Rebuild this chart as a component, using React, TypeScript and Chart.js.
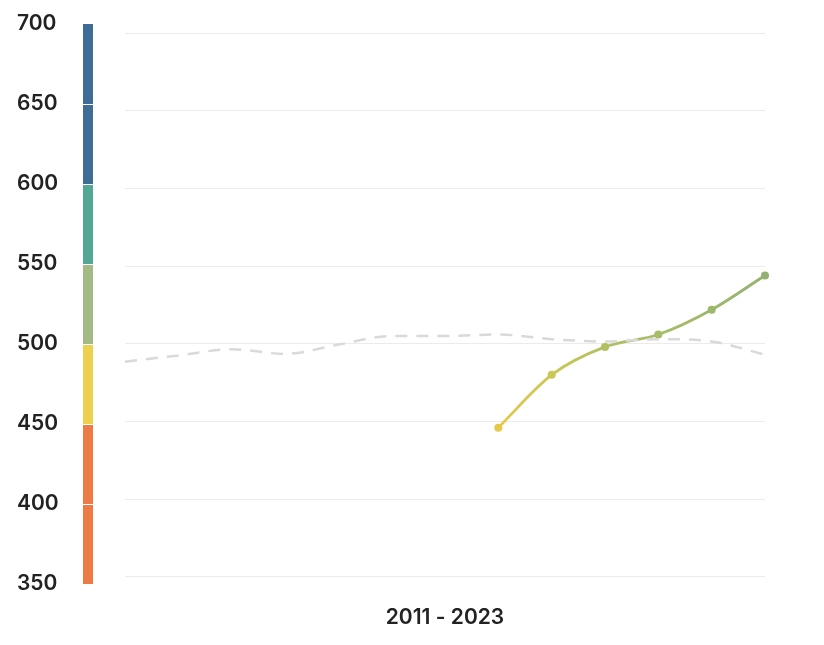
import React, { useEffect, useRef } from "react";
import { Chart, registerables } from "chart.js";

Chart.register(...registerables);

const years = ["2011","2012","2013","2014","2015","2016","2017","2018","2019","2020","2021","2022","2023"];
const axisLabel = "2011 - 2023";
const scoreValues: (number | null)[] = [null, null, null, null, null, null, null, 446, 480, 498, 506, 522, 544];
const referenceValues = [488.5, 492.5, 496.5, 493.5, 499.5, 505, 505, 506, 503, 501.5, 503, 501.5, 493];
const yTicks = [350, 400, 450, 500, 550, 600, 650, 700];
const bandEdges = [350, 450, 500, 550, 600, 700];
const bandColors = ["#ee7b45", "#eed04f", "#a4ba86", "#52a893", "#3f6d98"];
const pointColors = ["#e6c84a", "#cbc757", "#b2c062", "#a7bc67", "#9db76b", "#93b170"];

const colorBarPlugin = {
  id: "colorBar",
  afterDraw(chart: any) {
    const s = chart.scales.yl;
    const c = chart.ctx;
    const x0 = 75;
    const w = 10;
    c.save();
    for (let i = 0; i < bandColors.length; i++) {
      const lo = bandEdges[i];
      const hi = bandEdges[i + 1];
      c.fillStyle = bandColors[i];
      for (let v = lo; v < hi; v += 50) {
        const top = s.getPixelForValue(Math.min(v + 50, hi));
        const bot = s.getPixelForValue(v);
        const isTop = Math.min(v + 50, hi) === 700;
        c.fillRect(x0, top + (isTop ? 0 : 1), w, bot - top - (isTop ? 0 : 1));
      }
    }
    c.restore();
  },
};

export default function App() {
  const ref = useRef<HTMLCanvasElement | null>(null);
  useEffect(() => {
    if (!ref.current) return;
    const chart = new Chart(ref.current, {
      type: "line",
      data: {
        labels: years,
        datasets: [
          {
            data: referenceValues,
            yAxisID: "y",
            borderColor: "#d9d9d9",
            borderWidth: 2.5,
            borderDash: [12, 9],
            pointRadius: 0,
            tension: 0.4,
            cubicInterpolationMode: "monotone",
            fill: false,
          },
          {
            data: scoreValues,
            yAxisID: "y",
            borderColor: (ctx: any) => {
              const chart = ctx.chart;
              const area = chart.chartArea;
              if (!area) return "#b8c060";
              const xs = chart.scales.x;
              const g = chart.ctx.createLinearGradient(xs.getPixelForValue(7), 0, xs.getPixelForValue(12), 0);
              g.addColorStop(0, pointColors[0]);
              g.addColorStop(0.2, pointColors[1]);
              g.addColorStop(0.4, pointColors[2]);
              g.addColorStop(0.6, pointColors[3]);
              g.addColorStop(0.8, pointColors[4]);
              g.addColorStop(1, pointColors[5]);
              return g;
            },
            borderWidth: 2.8,
            pointRadius: 4,
            pointBorderWidth: 0,
            pointBackgroundColor: [null, null, null, null, null, null, null, ...pointColors] as any,
            cubicInterpolationMode: "monotone",
            fill: false,
            clip: 10,
          },
        ],
      },
      options: {
        animation: false,
        responsive: false,
        maintainAspectRatio: false,
        layout: { padding: { top: 16, bottom: 0, left: 9, right: 0 } },
        plugins: { legend: { display: false }, tooltip: { enabled: false } },
        scales: {
          x: {
            type: "category",
            offset: false,
            grid: { display: false },
            border: { display: false },
            afterFit: (s: any) => { s.height = 53; },
            ticks: {
              autoSkip: false,
              maxRotation: 0,
              padding: 13,
              color: "#222222",
              font: { family: "Inter", size: 21, weight: "600" },
              callback: (_v: any, i: number) => (i === 6 ? axisLabel : ""),
            },
          },
          yl: {
            type: "linear",
            position: "left",
            min: 350,
            max: 700,
            grid: { display: false, drawTicks: false },
            border: { display: false },
            afterFit: (s: any) => { s.width = 108; },
            afterBuildTicks: (s: any) => { s.ticks = yTicks.map((v) => ({ value: v })); },
            ticks: {
              padding: 0,
              crossAlign: "far",
              color: "#222222",
              font: { family: "Inter", size: 21, weight: "600" },
            },
          },
          y: {
            type: "linear",
            position: "right",
            min: 345.3,
            max: 706,
            grid: { color: "#ebebeb", lineWidth: 1, drawTicks: false },
            border: { display: false },
            afterFit: (s: any) => { s.width = 51; },
            afterBuildTicks: (s: any) => { s.ticks = yTicks.map((v) => ({ value: v })); },
            ticks: { display: false, padding: 0 },
          },
        },
      },
      plugins: [colorBarPlugin],
    } as any);
    return () => chart.destroy();
  }, []);
  return (
    <div style={{ width: 808, height: 629 }}>
      <canvas ref={ref} width={808} height={629} style={{ width: 808, height: 629, display: "block" }} />
    </div>
  );
}
